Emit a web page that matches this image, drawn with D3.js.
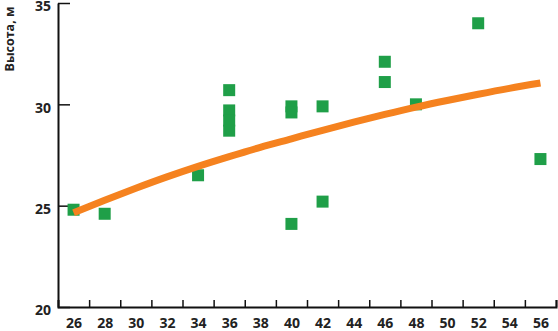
<!DOCTYPE html>
<html>
<head>
<meta charset="utf-8">
<script src="https://cdn.jsdelivr.net/npm/d3@7"></script>
<style>
  body { margin: 0; background: #fff; }
  svg text { font-family: "Open Sans", "DejaVu Sans", sans-serif; font-weight: 700; fill: #222; }
</style>
</head>
<body>
<div id="chart"></div>
<script>
// measured points (diameter, height)
const diameter = [26, 28, 34, 36, 36, 36, 36, 40, 40, 40, 42, 42, 46, 46, 48, 52, 56];
const height   = [24.8, 24.6, 26.5, 30.7, 29.7, 29.2, 28.7, 29.9, 29.6, 24.1, 29.9, 25.2, 32.1, 31.1, 30.0, 34.0, 27.3];

// trend curve
const trendX = [26, 28, 30, 32, 34, 36, 38, 40, 42, 44, 46, 48, 50, 52, 54, 56];
const trendY = [24.65, 25.27, 25.86, 26.42, 26.94, 27.42, 27.88, 28.3, 28.72, 29.12, 29.5, 29.86, 30.19, 30.5, 30.79, 31.05];

const xLabels = d3.range(26, 57, 2);
const xTicks = d3.range(27, 58, 2);
const yTicks = [20, 25, 30, 35];

const W = 558, H = 331;
const margin = { top: 3, right: 2, bottom: 24, left: 58 };

const svg = d3.select("#chart").append("svg")
    .attr("width", W)
    .attr("height", H);

const x = d3.scaleLinear().domain([25, 57]).range([margin.left, W - margin.right]);
const y = d3.scaleLinear().domain([20, 35]).range([H - margin.bottom, margin.top]);

// x axis: small ticks on odd values, labels on even values
const xAx = svg.append("g")
    .attr("transform", `translate(0,${y(20)})`)
    .call(d3.axisBottom(x).tickValues(xTicks).tickSize(-7).tickFormat(""));
xAx.select(".domain").attr("stroke", "#111").attr("stroke-width", 2);
xAx.selectAll(".tick line").attr("stroke", "#111").attr("stroke-width", 1.5);

const xLab = svg.append("g")
    .attr("transform", `translate(0,${y(20)})`)
    .call(d3.axisBottom(x).tickValues(xLabels).tickSize(0).tickPadding(11));
xLab.select(".domain").remove();
xLab.selectAll("text").attr("font-size", 14);

// y axis with inner ticks
const yAx = svg.append("g")
    .attr("transform", `translate(${x(25)},0)`)
    .call(d3.axisLeft(y).tickValues(yTicks).tickSizeInner(-12).tickSizeOuter(0).tickPadding(7));
yAx.select(".domain").attr("stroke", "#111").attr("stroke-width", 2);
yAx.selectAll(".tick line").attr("stroke", "#111").attr("stroke-width", 1.5);
yAx.selectAll("text").attr("font-size", 14).attr("dy", "0.55em");

svg.append("text")
    .attr("transform", `translate(14,39) rotate(-90)`)
    .attr("text-anchor", "middle")
    .attr("font-size", 12.5)
    .text("Высота, м");

// points
const pts = diameter.map((d, i) => ({ d, h: height[i] }));
const sq = 12;
svg.append("g")
  .selectAll("rect")
  .data(pts)
  .enter().append("rect")
    .attr("x", p => x(p.d) - sq / 2)
    .attr("y", p => y(p.h) - sq / 2)
    .attr("width", sq)
    .attr("height", sq)
    .attr("fill", "#1f9f48");

// trend line
const line = d3.line()
    .x((d, i) => x(trendX[i]))
    .y(d => y(d))
    .curve(d3.curveMonotoneX);

svg.append("path")
    .datum(trendY)
    .attr("d", line)
    .attr("fill", "none")
    .attr("stroke", "#f5821f")
    .attr("stroke-width", 7)
    .attr("stroke-linecap", "butt");
</script>
</body>
</html>
